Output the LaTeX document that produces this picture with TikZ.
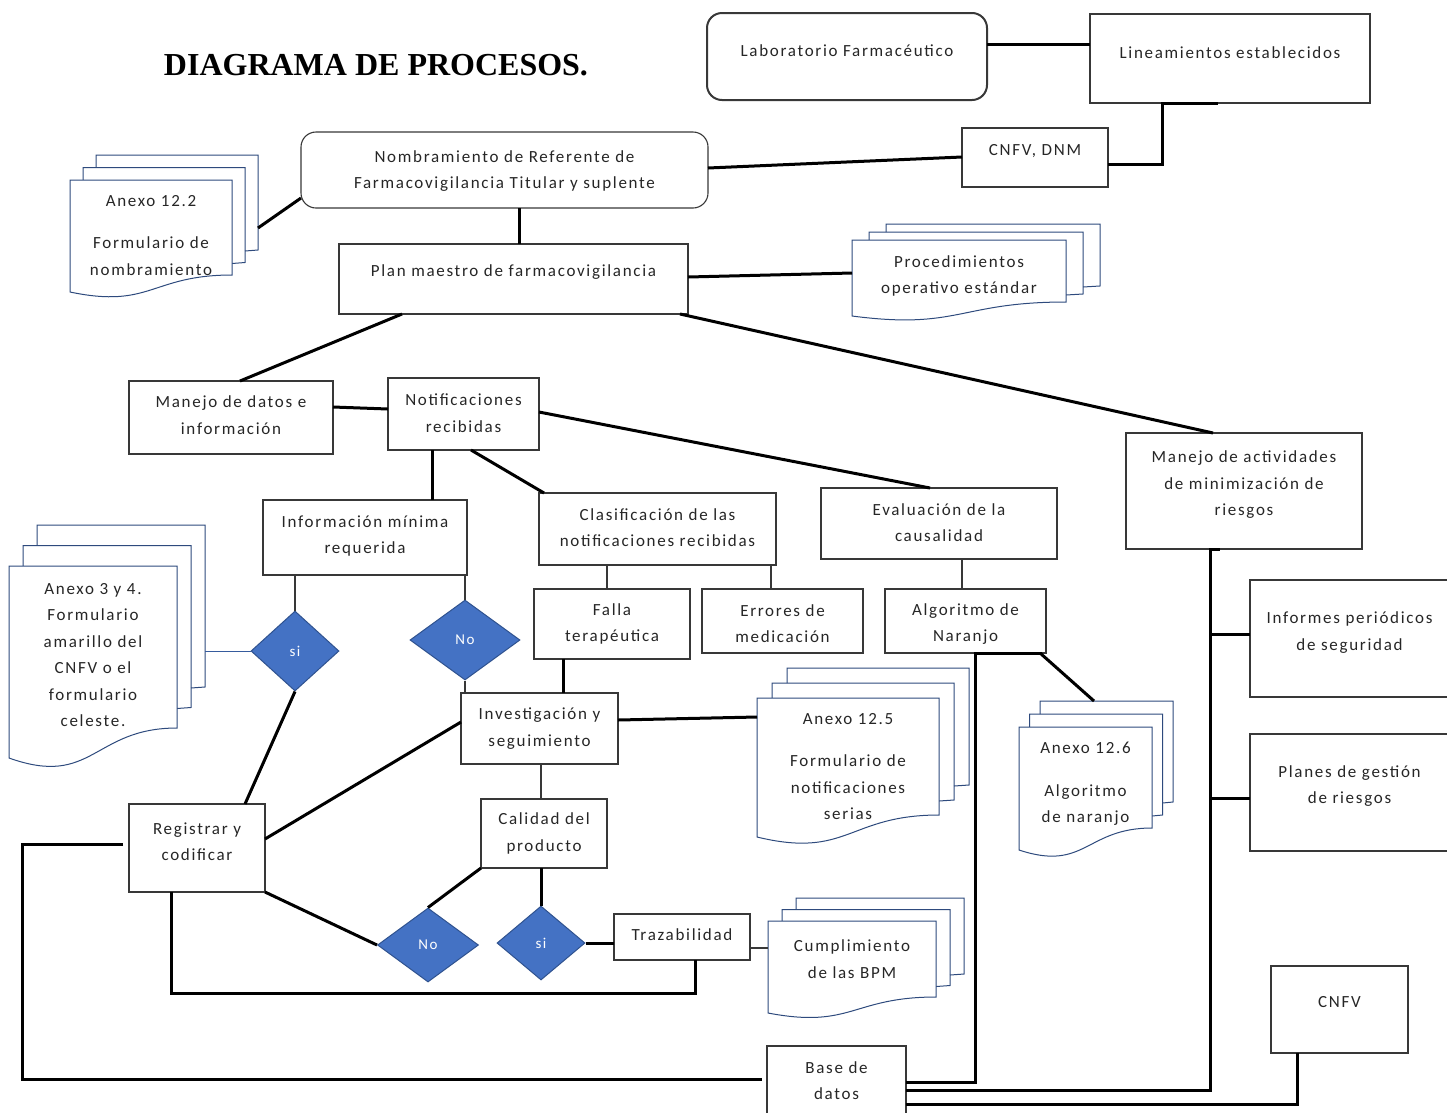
\documentclass[tikz,border=0pt]{standalone}
\usepackage{fontspec}
\setmainfont{Carlito}[LetterSpace=10]
\newfontfamily\titlefont{Liberation Serif}
\usetikzlibrary{shapes.geometric,calc}
\definecolor{boxc}{HTML}{383838}
\definecolor{txtc}{HTML}{262626}
\definecolor{docc}{HTML}{2E4A7D}
\definecolor{diaf}{HTML}{4472C4}
\definecolor{diad}{HTML}{2F528F}
\tikzset{
  box/.style={draw=boxc,line width=1.1pt,inner sep=0pt,outer sep=0pt},
  rbox/.style={box,rounded corners=15pt},
  txt/.style={font=\fontsize{17}{26.5}\selectfont,text=txtc,align=center,inner sep=0pt},
  dia/.style={diamond,draw=diad,line width=1pt,fill=diaf,text=white,inner sep=0pt,
    font=\fontsize{15}{18}\selectfont},
  doc/.style={draw=docc,line width=1pt,line join=miter},
  conn/.style={line width=3pt,black},
  thinc/.style={line width=1.4pt,draw=boxc},
  bluec/.style={line width=1pt,draw=diaf!80!black},
}
% box: [style] name x1 y1 x2 y2 texty text
\newcommand\bx[8][box]{%
  \node[#1,minimum width={#5-#3},minimum height={#6-#4}] (#2) at ({(#3+#5)/2},{(#4+#6)/2}) {};
  \node[txt] (#2-t) at ({(#3+#5)/2},#7+1.5) {#8};
}
% document stack: name x1 y1 x2 yb yl dx dy text ; vertical text shift in \tyoff
\def\tyoff{0}
\newcommand\docstack[9]{%
  \pgfmathsetmacro\xm{(#2+#4)/2}
  \pgfmathsetmacro\yw{2*#6-#5}
  \pgfmathsetmacro\ty{(#3+#5)/2+5+\tyoff}
  \draw[doc] (#2+2*#7,#3-#8) -- (#2+2*#7,#3-2*#8) -- (#4+2*#7,#3-2*#8) -- (#4+2*#7,#5-2*#8) -- (#4+#7,#5-2*#8+1);
  \draw[doc] (#2+#7,#3) -- (#2+#7,#3-#8) -- (#4+#7,#3-#8) -- (#4+#7,#5-#8) -- (#4,#5-#8+1);
  \draw[doc,fill=white] (#2,#3) -- (#4,#3) -- (#4,#5) .. controls (\xm,#5) and (\xm,\yw) .. (#2,#6) -- cycle;
  \coordinate (#1-w) at (#2,#3);
  \coordinate (#1-ne) at (#4+2*#7,#3-2*#8);
  \node[txt] (#1) at (\xm,\ty) {#9};
}
\begin{document}
\begin{tikzpicture}[x=1pt,y=-1pt]
\useasboundingbox[fill=white] (0,0) rectangle (1447,1112);

\node[font=\titlefont\bfseries\fontsize{32}{36}\selectfont,inner sep=0pt] (title) at (376,65) {DIAGRAMA DE PROCESOS.};

% boxes
\bx[rbox,line width=2pt]{lab}{707}{13}{987}{100}{49}{Laboratorio Farmacéutico}
\bx{lin}{1090}{14}{1370}{103}{51}{Lineamientos establecidos}
\bx{cnfvdnm}{962}{128}{1108}{187}{150}{CNFV, DNM}
\bx[rbox]{nomb}{301}{132}{708}{208}{169.5}{Nombramiento de Referente de\\Farmacovigilancia Titular y suplente}
\bx{plan}{339}{244}{688}{314}{271}{Plan maestro de farmacovigilancia}
\bx{mdat}{129}{381}{333}{454}{413.5}{Manejo de datos e\\información}
\bx{notif}{388}{378}{539}{450}{411.5}{Notificaciones\\recibidas}
\bx{mact}{1126}{433}{1362}{549}{483.5}{Manejo de actividades\\de minimización de\\riesgos}
\bx{info}{263}{500}{467}{575}{534.5}{Información mínima\\requerida}
\bx{clas}{539}{493}{776}{565}{526}{Clasificación de las\\notificaciones recibidas}
\bx{eval}{821}{488}{1057}{559}{521}{Evaluación de la\\causalidad}
\bx{falla}{534}{589}{690}{659}{622.5}{Falla\\terapéutica}
\bx{err}{702}{589}{863}{653}{622}{Errores de\\medicación}
\bx{alg}{885}{589}{1046}{653}{622.5}{Algoritmo de\\Naranjo}
\bx{inv}{461}{693}{618}{764}{727}{Investigación y\\seguimiento}
\bx{cal}{481}{799}{607}{868}{832}{Calidad del\\producto}
\bx{reg}{129}{804}{265}{892}{840}{Registrar y\\codificar}
\bx{traz}{614}{914}{750}{960}{933}{Trazabilidad}
\bx{base}{767}{1046}{906}{1118}{1079}{Base de\\datos}
\bx{inf}{1250}{580}{1449}{697}{631}{Informes periódicos\\de seguridad}
\bx{plg}{1250}{734}{1449}{851}{784.5}{Planes de gestión\\de riesgos}
\bx{cnfv}{1271}{966}{1408}{1053}{1001}{CNFV}

% document stacks
\def\tyoff{3}
\docstack{ax122}{70}{180}{232}{275}{292}{13}{12.5}{Anexo 12.2\\[16pt]Formulario de\\nombramiento}
\def\tyoff{3}
\docstack{ax34}{9}{566}{177}{728}{758}{14}{20.5}{Anexo 3 y 4.\\Formulario\\amarillo del\\CNFV o el\\formulario\\celeste.}
\def\tyoff{0}
\docstack{proc}{852}{240}{1066}{302}{316}{17}{8}{Procedimientos\\operativo estándar}
\def\tyoff{5}
\docstack{ax125}{757}{698}{939}{815}{837}{15}{15}{Anexo 12.5\\[16pt]Formulario de\\notificaciones\\serias}
\def\tyoff{1.5}
\docstack{ax126}{1019}{727}{1152}{828}{850}{10.5}{13}{Anexo 12.6\\[16pt]Algoritmo\\de naranjo}
\def\tyoff{-5}
\docstack{bpm}{768}{921}{936}{997}{1013}{14}{11.5}{Cumplimiento\\de las BPM}

% decisions
\node[dia,minimum width=88,minimum height=80] (si1) at (295,651) {si};
\node[dia,minimum width=110,minimum height=80] (no1) at (465,640) {No};
\node[dia,minimum width=101,minimum height=74] (no2) at (428,945) {No};
\node[dia,minimum width=88,minimum height=74] (si2) at (541,943) {si};

% connectors
\draw[conn] (lab.east |- 0,44) -- (lin.west |- 0,44);
\draw[conn] (lin.south -| 1218,0) -- ++(-56,0) |- (cnfvdnm.east |- 0,164);
\draw[conn] (nomb.east |- 0,168) -- (cnfvdnm.west |- 0,157);
\draw[conn] (nomb.west |- 0,198) -- (ax122-ne |- 0,228);
\draw[conn] (nomb.south -| 519,0) -- (plan.north -| 519,0);
\draw[conn] (plan.east |- 0,277) -- (proc-w |- 0,273);
\draw[conn] (plan.south -| 402,0) -- (mdat.north -| 240,0);
\draw[conn] (mdat.east |- 0,407) -- (notif.west |- 0,409);
\draw[conn] (plan.south -| 680,0) -- (mact.north -| 1213,0);
\draw[conn] (notif.south -| 432,0) -- (info.north -| 432,0);
\draw[conn] (notif.south -| 471,0) -- (clas.north -| 544,0);
\draw[conn] (notif.east |- 0,412) -- (eval.north -| 930,0);
\draw[thinc] (clas.south -| 607,0) -- (falla.north -| 607,0);
\draw[thinc] (clas.south -| 771,0) -- (err.north -| 771,0);
\draw[thinc] (eval.south -| 962,0) -- (alg.north -| 962,0);
\draw[thinc] (info.south -| si1.north) -- (si1.north);
\draw[thinc] (info.south -| no1.north) -- (no1.north);
\draw[bluec] (ax34-ne |- si1.west) -- (si1.west);
\draw[thinc] (no1.south) -- (inv.north -| no1.south);
\draw[conn] (falla.south -| 563,0) -- (inv.north -| 563,0);
\draw[conn] (inv.east |- 0,720) -- (ax125-w |- 0,717);
\draw[conn] (alg.south -| 1040,0) -- (1094,0 |- ax126-ne);
\draw[thinc] (inv.south -| 541,0) -- (cal.north -| 541,0);
\draw[conn] (si1.south) -- (reg.north -| 245,0);
\draw[conn] (inv.west |- 0,722) -- (reg.east |- 0,839);
\draw[conn] (cal.south west) -- (no2.north);
\draw[conn] (cal.south -| si2.north) -- (si2.north);
\draw[conn] (reg.south east) -- (no2.west);
\draw[conn] (si2.east) -- (traz.west |- si2.east);
\draw[thinc] (traz.east |- 0,948) -- (bpm-w |- 0,948);
\draw[conn] (reg.south -| 171,0) -- ++(0,101) -| (traz.south -| 695,0);
\draw[conn] ($(reg.west |- 0,844)+(-6,0)$) -- ++(-101,0) |- ($(base.west |- 0,1079)+(-5,0)$);
\draw[conn] (base.east |- 0,1082) -- ++(69,0) |- (alg.south -| 1042,0);
\draw[conn] (base.east |- 0,1090) -- ++(304,0) |- (mact.south -| 1220,0);
\draw[conn] (1210,634) -- (inf.west |- 0,634);
\draw[conn] (1210,798) -- (plg.west |- 0,798);
\draw[conn] (base.east |- 0,1104) -| (cnfv.south -| 1297,0);
\end{tikzpicture}
\end{document}
